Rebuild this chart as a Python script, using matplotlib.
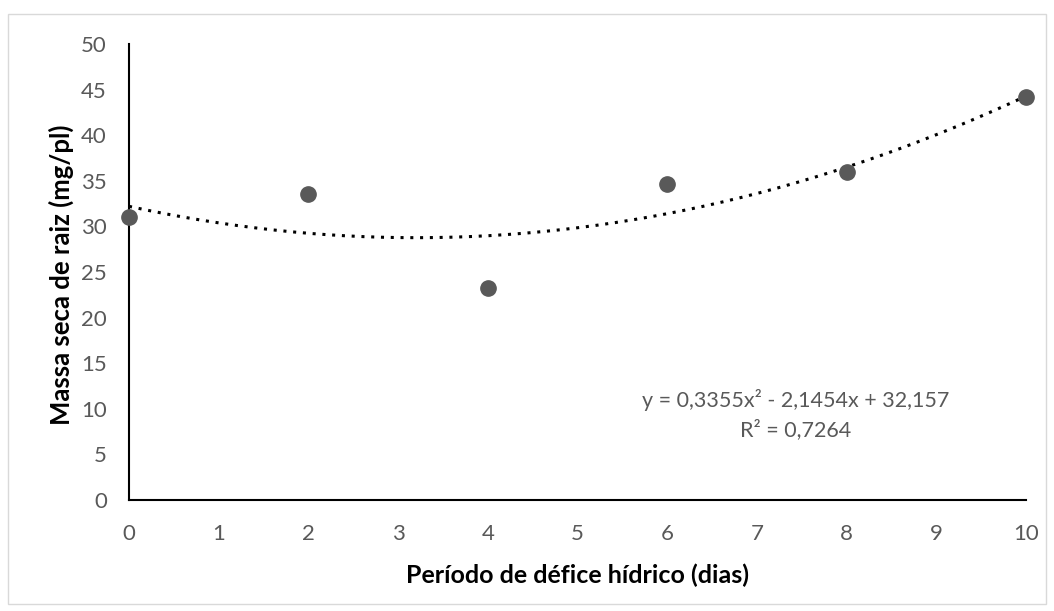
import matplotlib
matplotlib.use("Agg")
import matplotlib.pyplot as plt
import numpy as np
from matplotlib.patches import Rectangle

days = [0, 2, 4, 6, 8, 10]
root_mass = [31.0, 33.6, 23.2, 34.6, 36.0, 44.2]
x_ticks = list(range(0, 11))
y_ticks = list(range(0, 51, 5))
equation = "y = 0,3355x² - 2,1454x + 32,157"
r2_text = "R² = 0,7264"

plt.rcParams['font.family'] = ['Lato', 'DejaVu Sans']
gray = '#595959'

fig = plt.figure(figsize=(10.54, 6.11), dpi=100)
W, H = 1054, 611
ax = fig.add_axes([129 / W, 1 - 500 / H, (1026 - 129) / W, (500 - 44) / H])

fig.patches.append(Rectangle((8 / W, 1 - 604 / H), (1046 - 8) / W, (604 - 14) / H,
                             transform=fig.transFigure, fill=False,
                             edgecolor='#d9d9d9', linewidth=1))

coef = np.polyfit(days, root_mass, 2)
xs = np.linspace(0, 10, 200)
ax.plot(xs, np.polyval(coef, xs), color='black', linestyle=(0, (1, 2.2)),
        linewidth=2.2, zorder=2)
ax.plot(days, root_mass, 'o', color=gray, markersize=11, zorder=3, clip_on=False)

ax.set_xlim(0, 10)
ax.set_ylim(0, 50)
ax.set_xticks(x_ticks)
ax.set_yticks(y_ticks)
ax.tick_params(length=0, labelsize=16, colors=gray)
ax.tick_params(axis='x', pad=17)
ax.tick_params(axis='y', pad=16)
for s in ['top', 'right']:
    ax.spines[s].set_visible(False)
for s in ['left', 'bottom']:
    ax.spines[s].set_linewidth(1.5)
    ax.spines[s].set_color('black')

ax.set_xlabel('Período de défice hídrico (dias)', fontsize=18, fontweight='bold',
              labelpad=14)
ax.set_ylabel('Massa seca de raiz (mg/pl)', fontsize=18.5, fontweight='bold')
ax.yaxis.set_label_coords(61 / W, 1 - 275 / H, transform=fig.transFigure)
ax.yaxis.label.set_va('center')

ax.text(796 / W, 1 - 400 / H, equation, transform=fig.transFigure, ha='center',
        va='center', fontsize=15.5, color=gray)
ax.text(796 / W, 1 - 430 / H, r2_text, transform=fig.transFigure, ha='center',
        va='center', fontsize=15.5, color=gray)

fig.savefig('out.png', dpi=100)
